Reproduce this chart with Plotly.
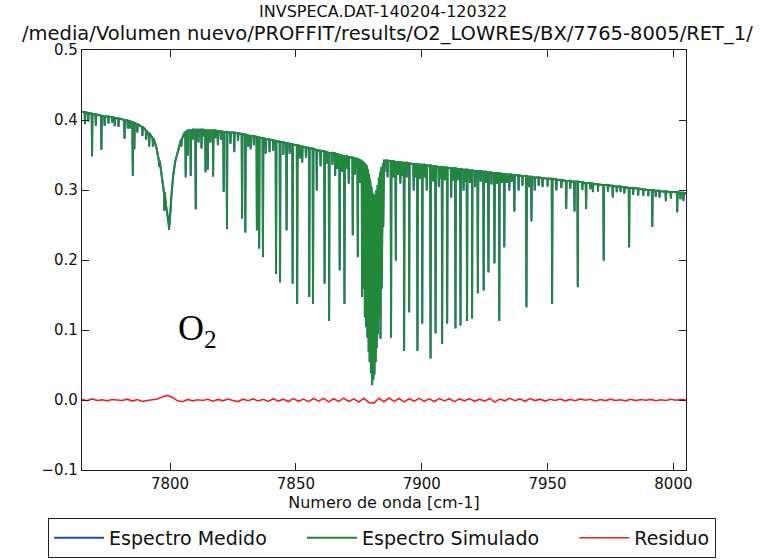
import plotly.graph_objects as go

# ---------------- data ----------------
# smooth continuum (upper envelope) of the spectrum
cont_wn = [7765, 7770, 7775, 7780, 7785, 7788, 7790, 7792, 7793, 7794.5, 7795.5, 7796.5,
           7797.5, 7798.5, 7799.3, 7800.0, 7800.5, 7801.2, 7802.0, 7803.0, 7804.0, 7805.5,
           7807, 7810, 7815, 7820, 7825, 7830, 7835, 7840, 7845, 7850, 7855, 7860, 7865,
           7870, 7874, 7876, 7878, 7879.5, 7881, 7882.5, 7883.8, 7885, 7890, 7895, 7900,
           7905, 7910, 7915, 7920, 7925, 7930, 7935, 7940, 7945, 7950, 7955, 7960, 7965,
           7970, 7975, 7980, 7985, 7990, 7995, 8000, 8005]
cont_val = [0.412, 0.408, 0.405, 0.402, 0.397, 0.392, 0.387, 0.380, 0.375, 0.362, 0.345, 0.325,
            0.300, 0.275, 0.255, 0.262, 0.290, 0.320, 0.340, 0.355, 0.368, 0.380,
            0.385, 0.386, 0.385, 0.384, 0.382, 0.379, 0.375, 0.372, 0.368, 0.364, 0.360, 0.356, 0.352,
            0.348, 0.344, 0.341, 0.334, 0.310, 0.290, 0.305, 0.330, 0.342, 0.340, 0.338, 0.336,
            0.334, 0.332, 0.330, 0.328, 0.326, 0.324, 0.322, 0.320, 0.318, 0.316, 0.314, 0.312, 0.310,
            0.308, 0.306, 0.304, 0.302, 0.300, 0.298, 0.297, 0.295]

# strong absorption lines: position, local continuum, minimum (simulated), minimum (measured)
line_wn = [7766.2, 7769.0, 7770.5, 7772.7, 7775.5, 7778.0, 7781.9, 7783.2, 7785.2, 7785.8,
           7787.0, 7789.0, 7791.7, 7793.2, 7795.7, 7797.7, 7799.6,
           7806.2, 7807.0, 7808.2, 7810.2, 7812.5, 7814.1, 7815.0, 7817.1, 7819.0, 7821.3,
           7822.6, 7825.5, 7828.6, 7829.9, 7832.0, 7834.5, 7835.4, 7836.9, 7839.5, 7842.1,
           7843.7, 7846.3, 7848.7, 7850.5, 7852.5, 7855.3, 7856.8, 7858.3, 7861.4, 7863.2,
           7865.6, 7867.4, 7869.3, 7871.0, 7872.6, 7874.6, 7876.3, 7876.9, 7877.4, 7877.9,
           7878.4, 7878.9, 7879.3, 7879.8, 7880.3, 7880.8, 7881.2, 7881.7, 7882.1, 7882.6,
           7883.1, 7883.6, 7884.1, 7884.7, 7886.4, 7887.8, 7889.7, 7891.5, 7893.0, 7895.0,
           7896.8, 7898.3, 7900.2, 7902.0, 7903.5, 7905.5, 7906.8, 7908.1, 7910.1, 7911.7,
           7913.4, 7915.4, 7916.6, 7918.0, 7920.0, 7921.2, 7922.3, 7924.6, 7926.5, 7928.9,
           7930.8, 7932.8, 7934.8, 7936.8, 7938.5, 7941.6, 7943.6, 7944.9, 7948.0, 7951.8,
           7953.5, 7957.4, 7960.7, 7962.0, 7965.3, 7968.0, 7972.3, 7975.9, 7979.0, 7982.4,
           7986.0, 7991.6, 7994.5, 7997.0, 8001.5, 8004.0]
line_top = [0.411, 0.409, 0.408, 0.406, 0.405, 0.403, 0.400, 0.399, 0.397, 0.396,
            0.394, 0.390, 0.379, 0.374, 0.342, 0.297, 0.255,
            0.383, 0.385, 0.385, 0.386, 0.386, 0.385, 0.385, 0.385, 0.384, 0.383,
            0.383, 0.382, 0.380, 0.379, 0.377, 0.376, 0.375, 0.374, 0.372, 0.370,
            0.369, 0.367, 0.365, 0.364, 0.362, 0.360, 0.359, 0.357, 0.355, 0.353,
            0.352, 0.350, 0.348, 0.347, 0.346, 0.344, 0.341, 0.339, 0.337, 0.335,
            0.330, 0.322, 0.315, 0.305, 0.296, 0.291, 0.290, 0.294, 0.300, 0.307,
            0.318, 0.326, 0.333, 0.338, 0.342, 0.341, 0.340, 0.340, 0.339, 0.338,
            0.337, 0.337, 0.336, 0.335, 0.335, 0.334, 0.333, 0.333, 0.332, 0.331,
            0.331, 0.330, 0.329, 0.329, 0.328, 0.327, 0.327, 0.326, 0.325, 0.324,
            0.324, 0.323, 0.322, 0.321, 0.321, 0.320, 0.319, 0.318, 0.317, 0.316,
            0.315, 0.313, 0.312, 0.312, 0.310, 0.309, 0.307, 0.306, 0.305, 0.303,
            0.302, 0.300, 0.299, 0.298, 0.297, 0.296]
line_sim = [0.395, 0.350, 0.392, 0.358, 0.395, 0.392, 0.374, 0.388, 0.323, 0.360,
            0.383, 0.378, 0.363, 0.362, 0.336, 0.271, 0.244,
            0.323, 0.350, 0.321, 0.273, 0.360, 0.326, 0.330, 0.320, 0.365, 0.298,
            0.245, 0.355, 0.260, 0.240, 0.360, 0.243, 0.217, 0.205, 0.355, 0.181,
            0.169, 0.243, 0.167, 0.138, 0.340, 0.148, 0.138, 0.300, 0.167, 0.114,
            0.322, 0.186, 0.138, 0.310, 0.236, 0.205, 0.148, 0.160, 0.120, 0.105,
            0.090, 0.070, 0.055, 0.040, 0.022, 0.030, 0.038, 0.055, 0.075, 0.095,
            0.120, 0.088, 0.160, 0.248, 0.320, 0.090, 0.200, 0.310, 0.071, 0.126,
            0.300, 0.071, 0.110, 0.300, 0.060, 0.096, 0.305, 0.083, 0.110, 0.290,
            0.103, 0.107, 0.300, 0.114, 0.117, 0.305, 0.153, 0.157, 0.183, 0.196,
            0.114, 0.219, 0.300, 0.270, 0.300, 0.133, 0.260, 0.300, 0.305, 0.138,
            0.300, 0.274, 0.270, 0.162, 0.274, 0.298, 0.200, 0.290, 0.298, 0.221,
            0.293, 0.248, 0.290, 0.285, 0.269, 0.285]
line_med = [0.394, 0.348, 0.392, 0.357, 0.395, 0.391, 0.373, 0.388, 0.320, 0.358,
            0.382, 0.377, 0.362, 0.362, 0.333, 0.270, 0.243,
            0.318, 0.349, 0.320, 0.272, 0.359, 0.325, 0.329, 0.319, 0.364, 0.297,
            0.244, 0.354, 0.259, 0.239, 0.358, 0.242, 0.216, 0.204, 0.354, 0.180,
            0.168, 0.242, 0.166, 0.137, 0.339, 0.147, 0.137, 0.299, 0.166, 0.113,
            0.320, 0.185, 0.137, 0.309, 0.235, 0.204, 0.147, 0.159, 0.118, 0.104,
            0.089, 0.069, 0.054, 0.038, 0.021, 0.029, 0.036, 0.054, 0.074, 0.094,
            0.119, 0.087, 0.159, 0.247, 0.318, 0.089, 0.199, 0.309, 0.070, 0.125,
            0.299, 0.070, 0.109, 0.299, 0.059, 0.095, 0.304, 0.080, 0.109, 0.289,
            0.102, 0.106, 0.299, 0.113, 0.116, 0.304, 0.152, 0.156, 0.182, 0.195,
            0.113, 0.218, 0.299, 0.269, 0.299, 0.132, 0.255, 0.299, 0.304, 0.137,
            0.299, 0.273, 0.269, 0.161, 0.273, 0.297, 0.199, 0.289, 0.297, 0.218,
            0.292, 0.247, 0.289, 0.284, 0.268, 0.284]

# weak lines near the continuum: position, local continuum, minimum
weak_wn = [7767.5, 7774.0, 7777.0, 7779.5, 7784.0, 7790.5, 7804.5, 7809.0, 7811.3, 7813.2,
           7816.0, 7818.0, 7820.2, 7824.0, 7827.0, 7831.0, 7833.3, 7838.0, 7841.0, 7845.0,
           7847.5, 7851.5, 7854.0, 7859.8, 7862.3, 7864.5, 7866.5, 7868.3, 7870.2, 7873.5,
           7875.4, 7886.0, 7888.8, 7890.6, 7892.2, 7894.0, 7897.5, 7899.3, 7901.2, 7904.5,
           7907.3, 7909.1, 7912.5, 7914.4, 7917.2, 7919.1, 7923.4, 7925.5, 7927.7, 7929.9,
           7931.8, 7933.8, 7935.8, 7940.0, 7942.5, 7946.5, 7950.0, 7955.5, 7959.0, 7963.8,
           7967.0, 7970.0, 7974.0, 7977.5, 7980.5, 7984.0, 7988.0, 7990.0, 7993.0, 7999.0,
           8002.8]
weak_top = [0.410, 0.405, 0.404, 0.402, 0.398, 0.385, 0.372, 0.386, 0.386, 0.386,
            0.385, 0.385, 0.384, 0.382, 0.381, 0.378, 0.377, 0.373, 0.371, 0.368,
            0.366, 0.363, 0.361, 0.356, 0.354, 0.353, 0.351, 0.349, 0.348, 0.345,
            0.343, 0.342, 0.341, 0.340, 0.339, 0.339, 0.337, 0.336, 0.336, 0.334,
            0.333, 0.332, 0.331, 0.330, 0.329, 0.328, 0.327, 0.326, 0.325, 0.324,
            0.323, 0.322, 0.322, 0.320, 0.319, 0.318, 0.316, 0.314, 0.313, 0.311,
            0.310, 0.308, 0.307, 0.305, 0.304, 0.303, 0.301, 0.300, 0.299, 0.297,
            0.296]
weak_min = [0.398, 0.392, 0.396, 0.390, 0.388, 0.372, 0.362, 0.372, 0.368, 0.376,
            0.368, 0.374, 0.372, 0.366, 0.370, 0.362, 0.364, 0.352, 0.356, 0.350,
            0.352, 0.345, 0.346, 0.334, 0.338, 0.336, 0.330, 0.326, 0.330, 0.322,
            0.310, 0.326, 0.318, 0.322, 0.320, 0.318, 0.318, 0.316, 0.318, 0.312,
            0.316, 0.314, 0.313, 0.314, 0.312, 0.310, 0.312, 0.310, 0.308, 0.309,
            0.310, 0.310, 0.312, 0.306, 0.304, 0.306, 0.305, 0.303, 0.302, 0.300,
            0.301, 0.298, 0.298, 0.297, 0.295, 0.293, 0.292, 0.291, 0.290, 0.288,
            0.287]

# residual (measured - simulated)
resid_wn = [7765, 7767, 7769, 7771, 7773, 7775, 7777, 7779, 7781, 7783, 7785, 7787, 7789, 7791,
            7793, 7795, 7797, 7799, 7801, 7803, 7805, 7807, 7809, 7811, 7813, 7815, 7817, 7819,
            7821, 7823, 7825, 7827, 7829, 7831, 7833, 7835, 7837, 7839, 7841, 7843, 7845, 7847,
            7849, 7851, 7853, 7855, 7857, 7859, 7861, 7863, 7865, 7867, 7869, 7871, 7873, 7875,
            7877, 7879, 7881, 7883, 7885, 7887, 7889, 7891, 7893, 7895, 7897, 7899, 7901, 7903,
            7905, 7907, 7909, 7911, 7913, 7915, 7917, 7919, 7921, 7923, 7925, 7927, 7929, 7931,
            7933, 7935, 7937, 7939, 7941, 7943, 7945, 7947, 7949, 7951, 7953, 7955, 7957, 7959,
            7961, 7963, 7965, 7967, 7969, 7971, 7973, 7975, 7977, 7979, 7981, 7983, 7985, 7987,
            7989, 7991, 7993, 7995, 7997, 7999, 8001, 8003, 8005]
resid_val = [0.0010, -0.0010, 0.0015, -0.0006, 0.0004, -0.0012, 0.0008, 0.0002, -0.0008, 0.0012,
             -0.0016, 0.0006, -0.0020, -0.0008, 0.0006, 0.0015, 0.0045, 0.0065, 0.0035, -0.0012,
             -0.0025, 0.0008, -0.0012, 0.0004, -0.0006, 0.0010, -0.0018, 0.0008, -0.0012, 0.0014,
             -0.0008, -0.0022, 0.0012, -0.0010, 0.0016, -0.0014, 0.0010, -0.0020, 0.0018, -0.0016,
             0.0012, -0.0022, 0.0020, -0.0018, 0.0014, -0.0024, 0.0022, -0.0016, 0.0024, -0.0026,
             0.0018, -0.0020, 0.0026, -0.0022, 0.0016, -0.0028, 0.0024, -0.0035, -0.0045, 0.0025,
             -0.0024, 0.0028, -0.0020, 0.0022, -0.0026, 0.0018, -0.0016, 0.0024, -0.0020, 0.0016,
             -0.0022, 0.0020, -0.0014, 0.0018, -0.0024, 0.0016, -0.0012, 0.0020, -0.0018, 0.0012,
             -0.0016, 0.0022, -0.0030, 0.0014, -0.0012, 0.0024, -0.0010, 0.0016, -0.0018, 0.0020,
             -0.0008, 0.0012, -0.0016, 0.0010, -0.0006, 0.0014, -0.0012, 0.0008, -0.0010, 0.0016,
             -0.0004, 0.0010, -0.0014, 0.0006, -0.0008, 0.0012, -0.0006, 0.0004, -0.0012, 0.0010,
             -0.0008, 0.0006, -0.0004, 0.0008, -0.0010, 0.0004, -0.0006, 0.0010, -0.0004, 0.0006,
             0.0002]

x_ticks = [7800, 7850, 7900, 7950, 8000]
y_ticks = [-0.1, 0.0, 0.1, 0.2, 0.3, 0.4, 0.5]

title_1 = "INVSPECA.DAT-140204-120322"
title_2 = "/media/Volumen nuevo/PROFFIT/results/O2_LOWRES/BX/7765-8005/RET_1/"
series_names = ["Espectro Medido", "Espectro Simulado", "Residuo"]

# ---------------- build the spectrum traces ----------------
HALF = 0.15  # half width of each drawn line (cm-1)


def build(mins):
    pts = list(zip(cont_wn, cont_val))
    for w, t, m in zip(line_wn, line_top, mins):
        pts += [(w - HALF, t), (w, m), (w + HALF, t)]
    for w, t, m in zip(weak_wn, weak_top, weak_min):
        pts += [(w - HALF, t), (w, m), (w + HALF, t)]
    pts.sort(key=lambda p: p[0])
    return [p[0] for p in pts], [p[1] for p in pts]


x_med, y_med = build(line_med)
x_sim, y_sim = build(line_sim)

NB = "\u00a0"  # spacing after legend entries, as in the reference legend

FONT = "DejaVu Sans"
fig = go.Figure()
fig.add_trace(go.Scatter(x=x_med, y=y_med, mode="lines", name=series_names[0] + NB * 5,
                         line=dict(color="#2b48c4", width=2)))
fig.add_trace(go.Scatter(x=x_sim, y=y_sim, mode="lines", name=series_names[1] + NB * 5,
                         line=dict(color="#22883a", width=1.9)))
fig.add_trace(go.Scatter(x=resid_wn, y=resid_val, mode="lines", name=series_names[2],
                         line=dict(color="#ee2222", width=1.6)))

axis_common = dict(showline=True, linecolor="#222222", linewidth=1.3, mirror="ticks",
                   ticks="inside", ticklen=7, tickwidth=1, tickcolor="#222222",
                   showgrid=False, zeroline=False,
                   tickfont=dict(family=FONT, size=15, color="#111111"))

fig.update_layout(
    width=768, height=560,
    margin=dict(l=82, r=82, t=50, b=90, autoexpand=False),
    paper_bgcolor="white", plot_bgcolor="white",
    font=dict(family=FONT, color="#111111"),
    xaxis=dict(range=[7765, 8005], tickvals=x_ticks, tickformat="d",
               title=dict(text="Numero de onda [cm-1]", font=dict(family=FONT, size=16), standoff=0),
               **axis_common),
    yaxis=dict(range=[-0.1, 0.5], tickvals=y_ticks, tickformat=".1f", **axis_common),
    legend=dict(orientation="h", x=-0.0562, xanchor="left", y=-0.114, yanchor="top",
                bordercolor="#222222", borderwidth=1, bgcolor="white",
                font=dict(family=FONT, size=19), itemwidth=50, tracegroupgap=0),
    annotations=[
        dict(text=title_1, xref="paper", yref="paper", x=0.498, y=(470 - 11.5) / 420,
             xanchor="center", yanchor="middle", showarrow=False, borderpad=0,
             font=dict(family=FONT, size=16, color="#111111")),
        dict(text=title_2, xref="paper", yref="paper", x=0.505, y=(470 - 34.0) / 420,
             xanchor="center", yanchor="middle", showarrow=False, borderpad=0,
             font=dict(family=FONT, size=19.5, color="#111111")),
        dict(text="O<sub>2</sub>", x=7802.5, y=0.1, xref="x", yref="y",
             xanchor="left", yanchor="middle", showarrow=False,
             font=dict(family="Liberation Serif", size=36, color="black")),
    ],
)

fig.write_html("out.html", config={"displayModeBar": False},
               post_script="document.body.style.margin='0px';")
